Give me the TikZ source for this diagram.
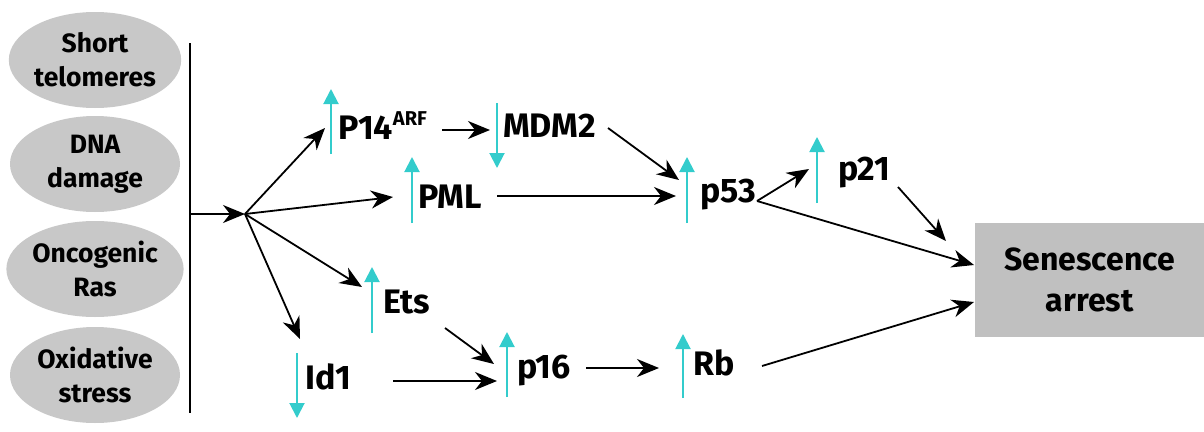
\documentclass[tikz,border=0pt]{standalone}
\usepackage{fontspec}
\setmainfont{Fira Sans}
\usetikzlibrary{arrows.meta,shapes.geometric}
\definecolor{ellgray}{RGB}{200,200,200}
\definecolor{boxgray}{RGB}{192,192,192}
\definecolor{upcyan}{RGB}{51,204,204}
\tikzset{
  cause/.style={ellipse,fill=ellgray,minimum width=170pt,minimum height=96pt,inner sep=0pt,align=center,font=\fontsize{26.5}{34}\selectfont\bfseries},
  lbl/.style={anchor=base west,inner sep=0pt,font=\fontsize{34}{36}\selectfont\bfseries},
  blk/.style={-{Stealth[length=22pt,width=18pt,inset=7pt]},line width=1.8pt,black},
  cy/.style={-{Triangle[length=15pt,width=15pt]},line width=2pt,upcyan}
}
\begin{document}
\begin{tikzpicture}[x=1pt,y=-1pt]
\useasboundingbox (0,0) rectangle (1204,431);
% causes
\node[cause] (tel) at (95,60) {Short\\telomeres};
\node[cause] (dna) at (95,164) {DNA\\damage};
\node[cause] (ras) at (95,269) {Oncogenic\\Ras};
\node[cause] (ox) at (95,375) {Oxidative\\stress};
% vertical bar
\coordinate (bartop) at (190,43);
\coordinate (barbot) at (190,413);
\draw[line width=1.5pt] (bartop) -- (barbot);
\coordinate (barmid) at (190,214);
\coordinate (hub) at (245,214);
\draw[blk] (barmid) -- (hub);
% labels
\node[lbl] (p14) at (338,139) {P14\raisebox{14pt}{\fontsize{20}{20}\selectfont ARF}};
\node[lbl] (mdm2) at (503,137) {MDM2};
\node[lbl] (pml) at (418,208) {PML};
\node[lbl] (p53) at (700,202) {p53};
\node[lbl] (p21) at (838,180) {p21};
\node[lbl] (ets) at (383,313) {Ets};
\node[lbl] (id1) at (305,389) {Id1};
\node[lbl] (p16) at (517,378) {p16};
\node[lbl] (rb) at (693,375) {Rb};
\node[rectangle,fill=boxgray,minimum width=229pt,minimum height=114pt,anchor=north west,inner sep=0pt,align=center,font=\fontsize{32}{41}\selectfont\bfseries] (sen) at (975,223) {Senescence\\arrest};
% cyan arrows
\coordinate (p14a) at (331,154); \coordinate (p14b) at (331,89);
\coordinate (mdma) at (497,103); \coordinate (mdmb) at (497,168);
\coordinate (pmla) at (412,223); \coordinate (pmlb) at (412,157);
\coordinate (p53a) at (687,223); \coordinate (p53b) at (687,157);
\coordinate (p21a) at (817,203); \coordinate (p21b) at (817,137);
\coordinate (etsa) at (372,333); \coordinate (etsb) at (372,267);
\coordinate (id1a) at (297,353); \coordinate (id1b) at (297,418);
\coordinate (p16a) at (507,397); \coordinate (p16b) at (507,332);
\coordinate (rba) at (683,398); \coordinate (rbb) at (683,334);
\foreach \a/\b in {p14a/p14b,mdma/mdmb,pmla/pmlb,p53a/p53b,p21a/p21b,etsa/etsb,id1a/id1b,p16a/p16b,rba/rbb}
  \draw[cy] (\a) -- (\b);
% black arrows from hub
\coordinate (t1) at (325,128);
\coordinate (t2) at (393,197);
\coordinate (t3) at (362,287);
\coordinate (t4) at (300,339);
\draw[blk] (hub) -- (t1);
\draw[blk] (hub) -- (t2);
\draw[blk] (hub) -- (t3);
\draw[blk] (hub) -- (t4);
% pathway arrows
\coordinate (s1) at (442,130); \coordinate (e1) at (490,130);
\draw[blk] (s1) -- (e1);
\coordinate (s2) at (608,128); \coordinate (e2) at (679,180);
\draw[blk] (s2) -- (e2);
\coordinate (s3) at (497,196); \coordinate (e3) at (676,196);
\draw[blk] (s3) -- (e3);
\coordinate (s4) at (757,201); \coordinate (e4) at (809,169);
\draw[blk] (s4) -- (e4);
\coordinate (e5) at (974,265);
\draw[blk] (s4) -- (e5);
\coordinate (s6) at (898,187); \coordinate (e6) at (946,241);
\draw[blk] (s6) -- (e6);
\coordinate (s7) at (445,328); \coordinate (e7) at (494,364);
\draw[blk] (s7) -- (e7);
\coordinate (s8) at (393,381); \coordinate (e8) at (497,381);
\draw[blk] (s8) -- (e8);
\coordinate (s9) at (586,368); \coordinate (e9) at (659,368);
\draw[blk] (s9) -- (e9);
\coordinate (s10) at (762,366); \coordinate (e10) at (974,302);
\draw[blk] (s10) -- (e10);
\end{tikzpicture}
\end{document}
